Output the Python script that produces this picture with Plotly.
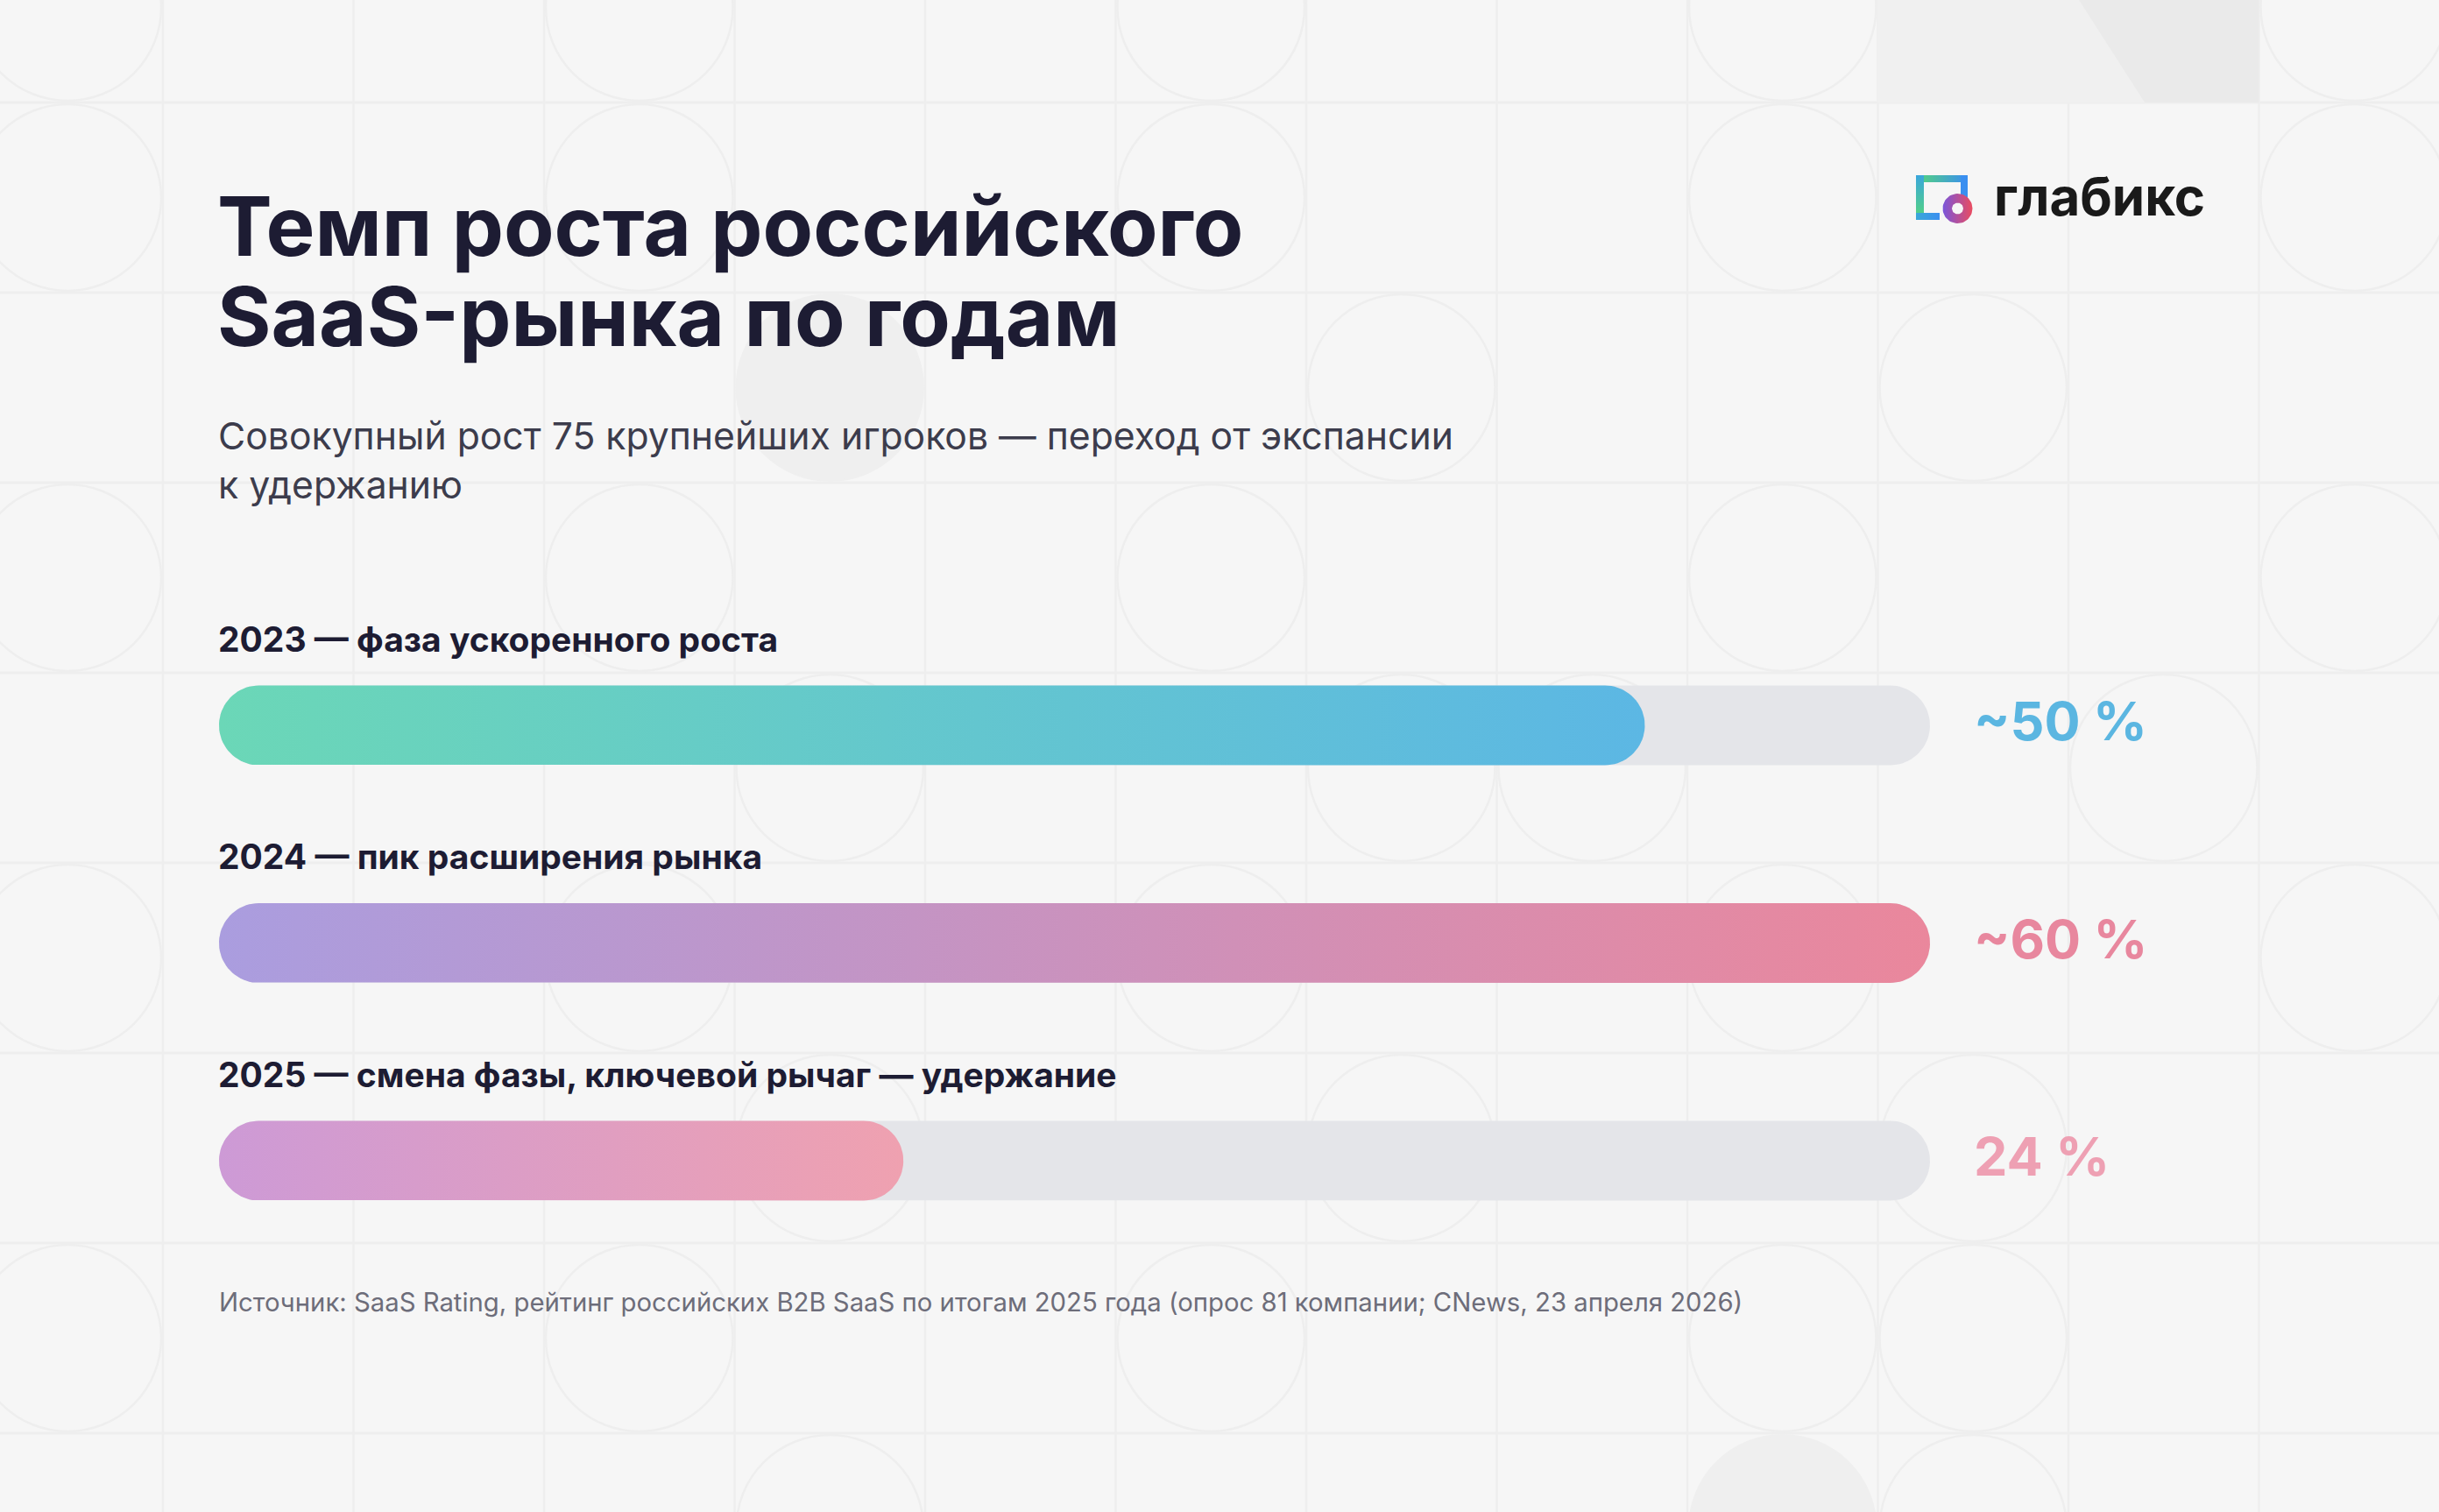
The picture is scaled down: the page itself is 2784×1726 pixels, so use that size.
import numpy as np
import plotly.graph_objects as go

# ---------------- data ----------------
categories = [
    "2023 — фаза ускоренного роста",
    "2024 — пик расширения рынка",
    "2025 — смена фазы, ключевой рычаг — удержание",
]
values = [50, 60, 24]
value_labels = ["~50 %", "~60 %", "24 %"]
axis_max = 60

title_lines = ["Темп роста российского", "SaaS-рынка по годам"]
subtitle_lines = ["Совокупный рост 75 крупнейших игроков — переход от экспансии", "к удержанию"]
source_text = "Источник: SaaS Rating, рейтинг российских B2B SaaS по итогам 2025 года (опрос 81 компании; CNews, 23 апреля 2026)"
brand = "глабикс"

# ---------------- style ----------------
W, H = 2784, 1726
BG = "#f6f6f6"
PATTERN = "#eeeeee"
DARK = "#1d1c33"
grad_colors = [("#6bd7b7", "#5cb7e4"), ("#aa9ddf", "#ea879c"), ("#cd9ad6", "#efa1b0")]
label_colors = ["#5bb6e1", "#e8879e", "#eea0b3"]
TRACK = "#e4e5e9"
FONT = "Inter"

X_LEFT_PX, X_RIGHT_PX = 250, 2203
ROW0_PX, ROW_STEP_PX = 828, 248.5
BAR_H_PX = 91

px_per_unit = (X_RIGHT_PX - X_LEFT_PX) / axis_max
x_range = [-X_LEFT_PX / px_per_unit, (W - X_LEFT_PX) / px_per_unit]
y_top = -ROW0_PX / ROW_STEP_PX
y_range = [y_top + H / ROW_STEP_PX, y_top]


def pill(v, yc):
    r = BAR_H_PX / 2
    rx, ry = r / px_per_unit, r / ROW_STEP_PX
    t1 = np.linspace(-np.pi / 2, np.pi / 2, 40)
    t2 = np.linspace(np.pi / 2, 3 * np.pi / 2, 40)
    xs = np.concatenate([(v - rx) + rx * np.cos(t1), rx + rx * np.cos(t2)])
    ys = np.concatenate([yc + ry * np.sin(t1), yc + ry * np.sin(t2)])
    return np.append(xs, xs[0]), np.append(ys, ys[0])


fig = go.Figure()

for i, (cat, v) in enumerate(zip(categories, values)):
    tx, ty = pill(axis_max, i)
    fig.add_trace(go.Scatter(x=tx, y=ty, mode="lines", fill="toself", fillcolor=TRACK,
                             line=dict(width=0, color="rgba(0,0,0,0)"), hoverinfo="skip"))
    bx, by = pill(v, i)
    c0, c1 = grad_colors[i]
    fig.add_trace(go.Scatter(x=bx, y=by, mode="lines", fill="toself",
                             fillgradient=dict(type="horizontal", colorscale=[[0, c0], [1, c1]]),
                             line=dict(width=0, color="rgba(0,0,0,0)"), hoverinfo="skip"))

annotations = []
for i, (cat, lab) in enumerate(zip(categories, value_labels)):
    annotations.append(dict(x=0, y=i, xref="x", yref="y", xanchor="left", yanchor="middle",
                            yshift=99, xshift=-3, showarrow=False, text=cat,
                            font=dict(family=FONT, size=39, color=DARK, weight=700)))
    annotations.append(dict(x=axis_max, y=i, xref="x", yref="y", xanchor="left", yanchor="middle",
                            xshift=48, yshift=5, showarrow=False, text=lab,
                            font=dict(family=FONT, size=61, color=label_colors[i], weight=700)))


def pa(text, xpx, ypx, size, color, weight=400, xanchor="left"):
    annotations.append(dict(x=xpx / W, y=1 - ypx / H, xref="paper", yref="paper",
                            xanchor=xanchor, yanchor="middle", showarrow=False, text=text,
                            font=dict(family=FONT, size=size, color=color, weight=weight)))


pa(title_lines[0], 246, 258, 94, DARK, 700)
pa(title_lines[1], 246, 361, 94, DARK, 700)
pa(subtitle_lines[0], 247, 497, 42.7, "#3c3c4c")
pa(subtitle_lines[1], 247, 554, 42.7, "#3c3c4c")
pa(source_text, 248, 1486, 29.3, "#6d6d7a")
pa(brand, 2274, 224, 60, "#1a1a1a", 700)

# ---------------- background pattern (paper coords) ----------------
shapes = []
cell_w, cell_h = 217.5, 217
col0, row0 = -31.5, -100
for r in range(1, 9):
    y = row0 + r * cell_h
    shapes.append(dict(type="line", xref="paper", yref="paper", x0=0, x1=1,
                       y0=1 - y / H, y1=1 - y / H, line=dict(color=PATTERN, width=3), layer="below"))
for c in range(1, 13):
    x = col0 + c * cell_w
    shapes.append(dict(type="line", xref="paper", yref="paper", x0=x / W, x1=x / W,
                       y0=0, y1=1, line=dict(color=PATTERN, width=2.5), layer="below"))
circle_cells = {
    0: [0, 3, 6, 9, 12], 1: [0, 3, 6, 9, 12], 2: [7, 10], 3: [0, 3, 6, 9, 12],
    4: [4, 7, 8, 11], 5: [0, 3, 6, 9, 12], 6: [4, 7, 10], 7: [0, 3, 6, 9, 10], 8: [4, 10],
}
filled_cells = [(2, 4), (8, 9)]
# grey block top right
shapes.append(dict(type="rect", xref="paper", yref="paper", x0=2143.5 / W, x1=2578.5 / W,
                   y0=1 - 117 / H, y1=1, fillcolor="#f0f0f0", line=dict(width=0), layer="below"))
shapes.append(dict(type="path", xref="paper", yref="paper",
                   path=f"M {2373/W},1 L {2578.5/W},1 L {2578.5/W},{1-117/H} L {2448/W},{1-117/H} Z",
                   fillcolor="#eaeaea", line=dict(width=0), layer="below"))
for r, cols in circle_cells.items():
    for c in cols:
        x0 = col0 + c * cell_w
        y0 = row0 + r * cell_h
        shapes.append(dict(type="circle", xref="paper", yref="paper",
                           x0=(x0 + 2) / W, x1=(x0 + cell_w - 2) / W,
                           y0=1 - (y0 + 2) / H, y1=1 - (y0 + cell_h - 2) / H,
                           line=dict(color=PATTERN, width=2.5), layer="below"))
for r, c in filled_cells:
    x0 = col0 + c * cell_w
    y0 = row0 + r * cell_h
    shapes.append(dict(type="circle", xref="paper", yref="paper",
                       x0=(x0 + 2) / W, x1=(x0 + cell_w - 2) / W,
                       y0=1 - (y0 + 2) / H, y1=1 - (y0 + cell_h - 2) / H,
                       fillcolor="#efefef", line=dict(color="#efefef", width=2), layer="below"))


# ---------------- logo icon (pixel overlay axes) ----------------
def rect_trace(x0, x1, y0, y1, c0, c1, gtype):
    return go.Scatter(x=[x0, x1, x1, x0, x0], y=[y0, y0, y1, y1, y0], xaxis="x2", yaxis="y2",
                      mode="lines", fill="toself", line=dict(width=0, color="rgba(0,0,0,0)"),
                      fillgradient=dict(type=gtype, colorscale=[[0, c0], [1, c1]]), hoverinfo="skip")


fig.add_trace(rect_trace(2187, 2246, 200, 208, "#55d67a", "#3a8ff0", "horizontal"))
fig.add_trace(rect_trace(2187, 2196, 200, 251, "#55d67a", "#3aa6dc", "vertical"))
fig.add_trace(rect_trace(2238, 2246, 200, 226, "#3a8ff0", "#3a8ff0", "vertical"))
fig.add_trace(rect_trace(2187, 2214, 243, 251, "#3aa8d8", "#3a8ff0", "horizontal"))
t = np.linspace(0, 2 * np.pi, 60)
cx, cy, ro, ri = 2234.5, 238, 17, 6.5
ring_x = np.concatenate([cx + ro * np.cos(t), cx + ri * np.cos(t[::-1])])
ring_y = np.concatenate([cy + ro * np.sin(t), cy + ri * np.sin(t[::-1])])
fig.add_trace(go.Scatter(x=ring_x, y=ring_y, xaxis="x2", yaxis="y2", mode="lines", fill="toself",
                         line=dict(width=0, color="rgba(0,0,0,0)"),
                         fillgradient=dict(type="horizontal", colorscale=[[0, "#7a56da"], [1, "#ea4c60"]]),
                         hoverinfo="skip"))

fig.update_layout(
    width=W, height=H,
    margin=dict(l=0, r=0, t=0, b=0),
    paper_bgcolor=BG, plot_bgcolor="rgba(0,0,0,0)",
    showlegend=False,
    xaxis=dict(range=x_range, domain=[0, 1], visible=False, fixedrange=True),
    yaxis=dict(range=y_range, domain=[0, 1], visible=False, fixedrange=True),
    xaxis2=dict(range=[0, W], overlaying="x", visible=False, fixedrange=True),
    yaxis2=dict(range=[H, 0], overlaying="y", visible=False, fixedrange=True),
    annotations=annotations,
    shapes=shapes,
    hovermode=False,
)

fig.write_html("out.html", config={"displayModeBar": False},
               post_script="document.body.style.margin='0';document.body.style.background='#f6f6f6';")
